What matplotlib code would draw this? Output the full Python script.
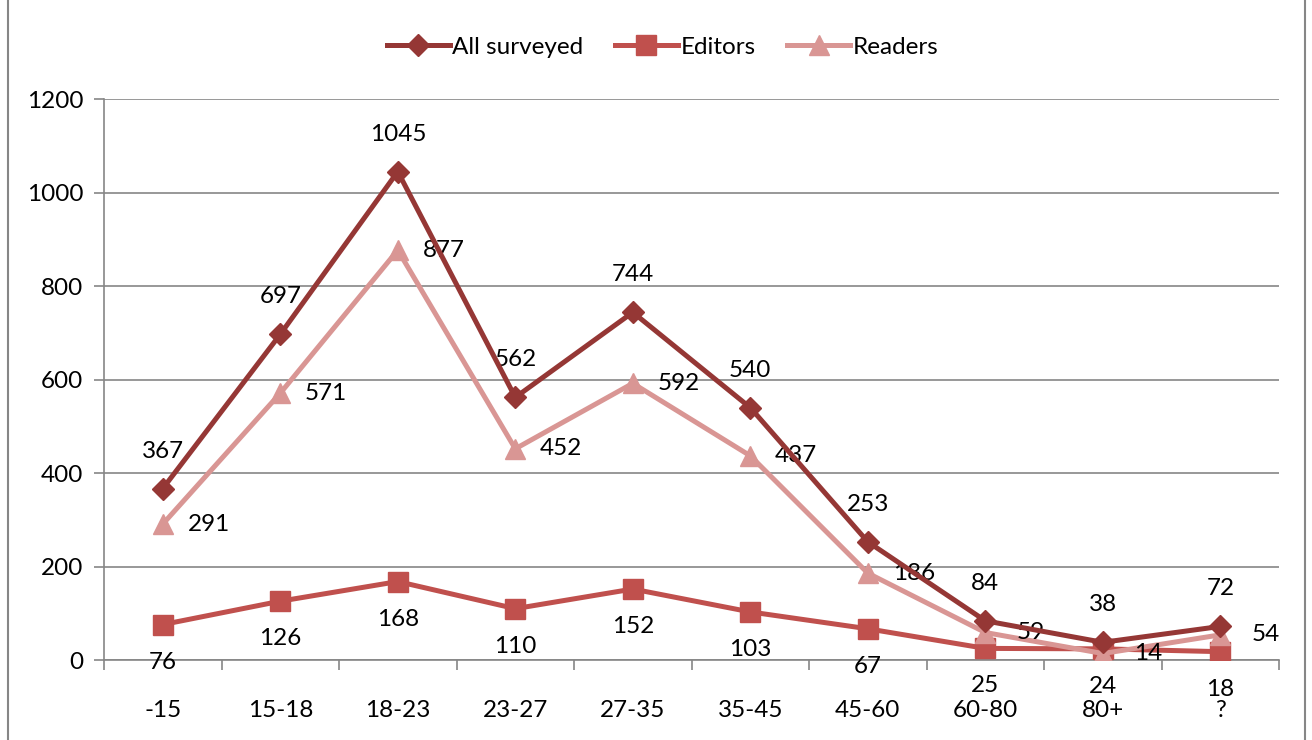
import numpy as np
import matplotlib.pyplot as plt
from matplotlib.patches import Rectangle

# Age groups of survey respondents
categories = ['-15', '15-18', '18-23', '23-27', '27-35', '35-45', '45-60', '60-80', '80+', '?']
all_surveyed = [367, 697, 1045, 562, 744, 540, 253, 84, 38, 72]
editors = [76, 126, 168, 110, 152, 103, 67, 25, 24, 18]
readers = [291, 571, 877, 452, 592, 437, 186, 59, 14, 54]

plt.rcParams['font.family'] = ['Lato', 'DejaVu Sans']

fig = plt.figure(figsize=(13.12, 7.4), dpi=100)
ax = fig.add_axes([0.0793, 0.108, 0.8956, 0.758])

x = np.arange(len(categories))
grey = '#868686'
font_size = 17.5

ax.plot(x, all_surveyed, color='#953735', lw=3.6, marker='D', ms=11, label='All surveyed', zorder=4)
ax.plot(x, editors, color='#C0504D', lw=3.6, marker='s', ms=14, label='Editors', zorder=3)
ax.plot(x, readers, color='#D99694', lw=3.6, marker='^', ms=14, label='Readers', zorder=3)

# data labels: above, below, right
for xi, v in zip(x, all_surveyed):
    ax.annotate(str(v), (xi, v), xytext=(0, 27), textcoords='offset points',
                ha='center', va='center', fontsize=font_size)
for xi, v in zip(x, editors):
    ax.annotate(str(v), (xi, v), xytext=(0, -27), textcoords='offset points',
                ha='center', va='center', fontsize=font_size)
for xi, v in zip(x, readers):
    ax.annotate(str(v), (xi, v), xytext=(33, 0), textcoords='offset points',
                ha='center', va='center', fontsize=font_size)

ax.set_xlim(-0.5, len(categories) - 0.5)
ax.set_ylim(0, 1200)
ax.set_yticks(np.arange(0, 1201, 200))
ax.yaxis.grid(True, color=grey, lw=1.2)
ax.set_axisbelow(True)

# category labels centered, tick marks on boundaries
ax.set_xticks(x)
ax.set_xticklabels(categories, fontsize=font_size)
ax.tick_params(axis='x', length=0, pad=29)
ax.set_xticks(np.arange(-0.5, len(categories)), minor=True)
ax.tick_params(axis='x', which='minor', length=7, color=grey, width=1.2, direction='out')
ax.tick_params(axis='y', length=7, color=grey, width=1.2, labelsize=font_size, pad=8)

for side in ['top', 'right']:
    ax.spines[side].set_visible(False)
for side in ['left', 'bottom']:
    ax.spines[side].set_color(grey)
    ax.spines[side].set_linewidth(1.2)

fig.legend(loc='upper center', bbox_to_anchor=(0.505, 0.98), ncol=3, frameon=False,
           fontsize=font_size, handlelength=2.6, columnspacing=1.3, handletextpad=0.1)

# chart frame
fig.patches.append(Rectangle((0.006, -0.01), 0.989, 1.02, transform=fig.transFigure,
                             fill=False, edgecolor=grey, lw=1.5))

fig.savefig('out.png', dpi=100)
